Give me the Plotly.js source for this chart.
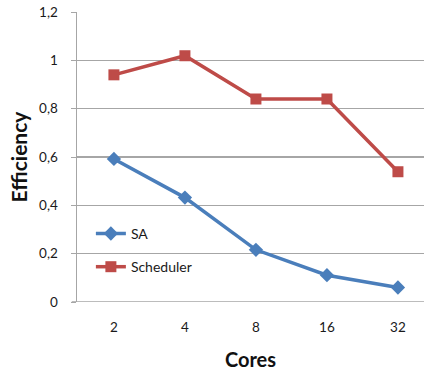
<!DOCTYPE html>
<html><head><meta charset="utf-8">
<script src="https://cdn.plot.ly/plotly-3.0.1.min.js"></script>
<style>html,body{margin:0;padding:0;background:#fff}#c{width:424px;height:376px}</style>
</head><body><div id="c"></div>
<script>
var cores = ['2', '4', '8', '16', '32'];
var saValues = [0.592, 0.432, 0.216, 0.111, 0.060];
var schedulerValues = [0.940, 1.019, 0.840, 0.840, 0.539];
var yTickVals = [0, 0.2, 0.4, 0.6, 0.8, 1, 1.2];
var yTickText = ['0', '0,2', '0,4', '0,6', '0,8', '1', '1,2'];

var traces = [
  {x: cores, y: saValues, name: 'SA', type: 'scatter', mode: 'lines+markers', legendgroup: 'a',
   line: {color: '#4A7EBB', width: 3.5}, marker: {symbol: 'diamond', size: 11, color: '#4A7EBB'}},
  {x: cores, y: schedulerValues, name: 'Scheduler', type: 'scatter', mode: 'lines+markers', legendgroup: 'b',
   line: {color: '#BE4B48', width: 3.5}, marker: {symbol: 'square', size: 11, color: '#BE4B48'}}
];
var layout = {
  width: 424, height: 376,
  margin: {l: 77, r: 0, t: 12, b: 73.5},
  paper_bgcolor: '#fff', plot_bgcolor: '#fff',
  font: {family: 'Lato, "Open Sans", sans-serif', size: 13, color: '#1a1a1a'},
  xaxis: {type: 'category', range: [-0.52, 4.367], showgrid: false, zeroline: false,
          showline: false, ticks: '', tickfont: {size: 13.5}, ticklabelstandoff: 15,
          title: {text: 'Cores', font: {size: 20, family: 'Lato, sans-serif', color: '#111', weight: 'bold'}, standoff: 19}},
  yaxis: {range: [0, 1.2], tickvals: yTickVals, ticktext: yTickText, showgrid: true, gridcolor: '#A6A6A6', gridwidth: 1.2,
          zeroline: false, showline: true, linecolor: '#A6A6A6', linewidth: 1.5, ticks: 'outside', ticklen: 5, tickcolor: '#A6A6A6',
          tickfont: {size: 13.5}, ticklabelstandoff: 10,
          title: {text: 'Efficiency', font: {size: 21, family: 'Lato, sans-serif', color: '#111', weight: 'bold'}, standoff: 5}},
  shapes: [{type: 'line', xref: 'paper', yref: 'y', x0: -0.015, x1: 1, y0: 0, y1: 0, line: {color: '#A6A6A6', width: 1.5}}],
  showlegend: true,
  legend: {x: 0.04, y: 0.29, xanchor: 'left', yanchor: 'top', bgcolor: 'rgba(0,0,0,0)',
           font: {size: 14, color: '#1a1a1a'}, traceorder: 'grouped', tracegroupgap: 12, itemwidth: 30}
};
Plotly.newPlot('c', traces, layout, {displayModeBar: false, staticPlot: true});
</script></body></html>
